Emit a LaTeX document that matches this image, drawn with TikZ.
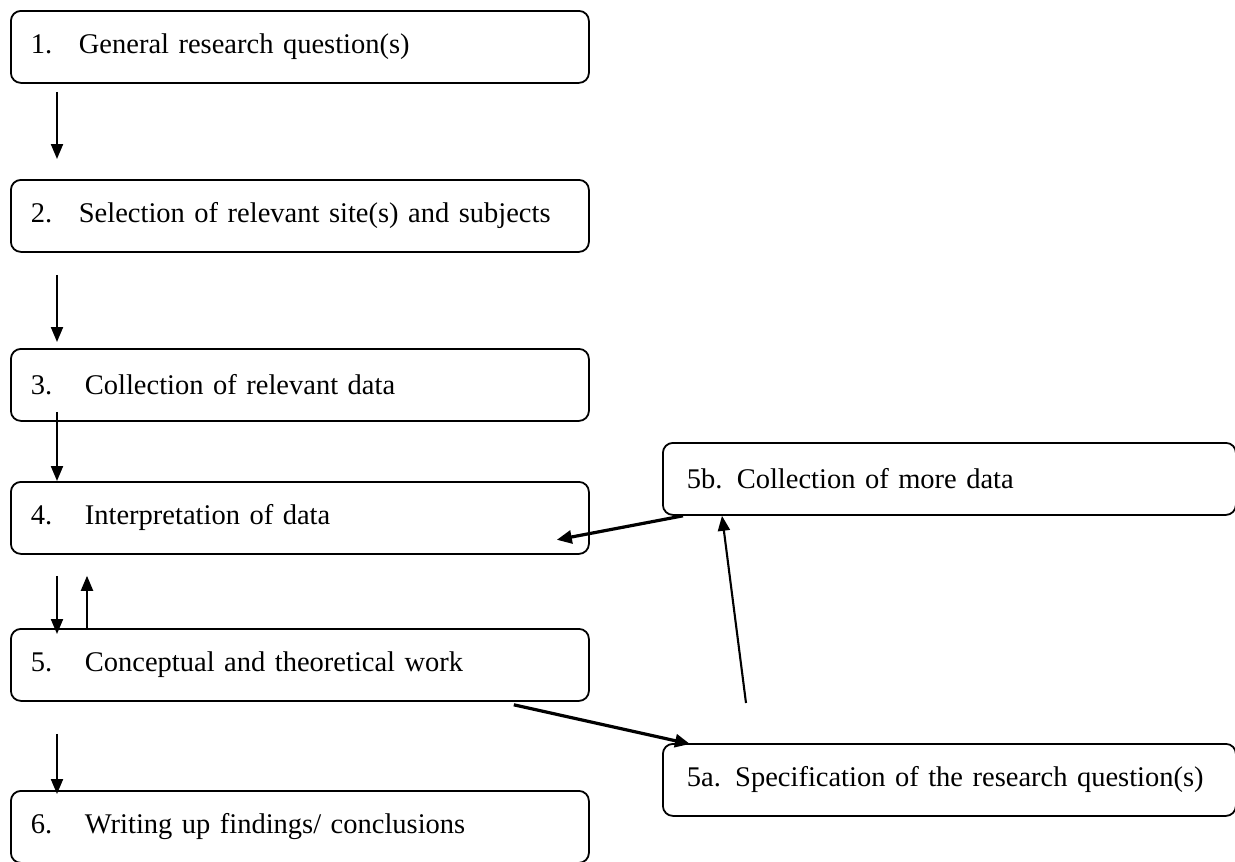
\documentclass[tikz,border=0pt]{standalone}
\usepackage{fontspec}
\setmainfont{Liberation Serif}
\usetikzlibrary{arrows.meta}
\begin{document}
\begin{tikzpicture}[x=1pt,y=-1pt,
  box/.style={draw, line width=1.8pt, rounded corners=10pt, rectangle,
    anchor=north west, minimum height=72pt, inner xsep=20pt, inner ysep=0pt,
    text width=538pt, align=left, font=\fontsize{28.5}{32}\selectfont},
  sidebox/.style={box, text width=525pt, inner xsep=24pt},
  arr/.style={line width=2.1pt, -{Triangle[length=15pt,width=12pt]}},
  thick arr/.style={line width=3.2pt, -{Triangle[length=15pt,width=13pt]}}]
\useasboundingbox (0,0) rectangle (1235,862);

% main sequence of steps
\node[box] (b1) at (10,10)  {\makebox[48pt][l]{1.}General research question(s)};
\node[box] (b2) at (10,179) {\makebox[48pt][l]{2.}Selection of relevant site(s) and subjects};
\node[box] (b3) at (10,348) {\makebox[54pt][l]{3.}Collection of relevant data};
\node[box] (b4) at (10,481) {\makebox[54pt][l]{4.}Interpretation of data};
\node[box] (b5) at (10,628) {\makebox[54pt][l]{5.}Conceptual and theoretical work};
\node[box] (b6) at (10,790) {\makebox[54pt][l]{6.}Writing up findings/ conclusions};

% side loop
\node[sidebox] (b5b) at (662,442) {5b. Collection of more data};
\node[sidebox] (b5a) at (662,743) {5a. Specification of the research question(s)};

% downward flow
\draw[arr] ([xshift=47pt,yshift=-8pt]b1.south west) -- ([xshift=47pt,yshift=20pt]b2.north west);
\draw[arr] ([xshift=47pt,yshift=-22pt]b2.south west) -- ([xshift=47pt,yshift=6pt]b3.north west);
\draw[arr] ([xshift=47pt,yshift=10pt]b3.south west) -- ([xshift=47pt,yshift=0pt]b4.north west);
\draw[arr] ([xshift=47pt,yshift=-21pt]b4.south west) -- ([xshift=47pt,yshift=-6pt]b5.north west);
\draw[arr] ([xshift=77pt]b5.north west) -- ([xshift=77pt,yshift=-21pt]b4.south west);
\draw[arr] ([xshift=47pt,yshift=-32pt]b5.south west) -- ([xshift=47pt,yshift=-4pt]b6.north west);

% loop through 5a and 5b
\draw[thick arr] ([xshift=-76pt,yshift=-3pt]b5.south east) -- ([xshift=28pt,yshift=-1pt]b5a.north west);
\draw[arr] ([xshift=84pt,yshift=40pt]b5a.north west) -- ([xshift=60pt]b5b.south west);
\draw[thick arr] ([xshift=21pt]b5b.south west) -- ([xshift=-33pt,yshift=15pt]b4.south east);
\end{tikzpicture}
\end{document}
